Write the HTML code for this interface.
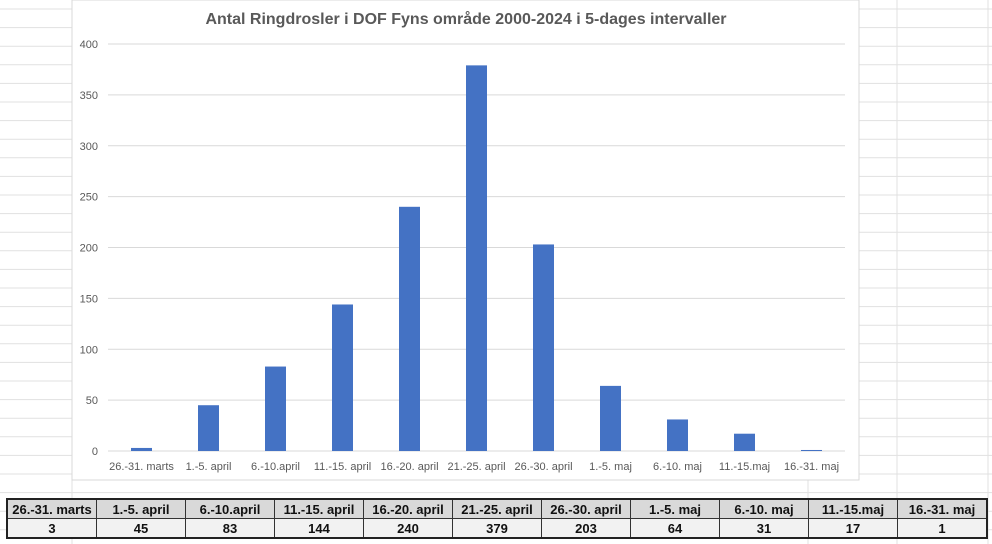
<!DOCTYPE html>
<html><head><meta charset="utf-8"><style>
body{margin:0;width:992px;height:544px;background:#fff;overflow:hidden;font-family:"Liberation Sans",sans-serif;position:relative}
#grid{position:absolute;left:0;top:0}
#chart{position:absolute;left:0;top:0}
table{position:absolute;left:6px;top:498px;border-collapse:collapse;table-layout:fixed}
td{border:1px solid #333;width:88px;height:18px;padding:0;text-align:center;font-weight:bold;font-size:13px;color:#111}
tr.h td{background:#d9d9d9}
tr.v td{background:#f2f2f2}
table{border:2px solid #222}
</style></head><body>
<svg id="grid" width="992" height="544"></svg>
<svg id="chart" width="992" height="544"></svg>
<table>
<tr class="h" id="hrow"></tr>
<tr class="v" id="vrow"></tr>
</table>
<script>
const categories=["26.-31. marts","1.-5. april","6.-10.april","11.-15. april","16.-20. april","21.-25. april","26.-30. april","1.-5. maj","6.-10. maj","11.-15.maj","16.-31. maj"];
const values=[3,45,83,144,240,379,203,64,31,17,1];
const yTicks=[0,50,100,150,200,250,300,350,400];
const NS="http://www.w3.org/2000/svg";
function mk(p,t,a){const e=document.createElementNS(NS,t);for(const k in a)e.setAttribute(k,a[k]);p.appendChild(e);return e;}
// spreadsheet grid
const g=document.getElementById('grid');
for(let y=9;y<544;y+=18.6){const l=mk(g,'line',{x1:0,x2:992,y1:y,y2:y,stroke:'#e1e1e1','stroke-width':1});

}
[72,808,897,988].forEach(x=>{const l=mk(g,'line',{x1:x,x2:x,y1:0,y2:544,stroke:'#e1e1e1','stroke-width':1});

});
// chart
const c=document.getElementById('chart');
const bg=mk(c,'rect',{x:72,y:0,width:787,height:480,fill:'#fff',stroke:'#d9d9d9'});


const x0=108,band=67,y0=451,ppu=(451-44)/400;
const yS=v=>y0-v*ppu, xS=i=>x0+band*i+band/2;
const t=mk(c,'text',{x:466,y:24,'text-anchor':'middle','font-size':16,'font-weight':'bold',fill:'#595959'});
t.textContent="Antal Ringdrosler i DOF Fyns område 2000-2024 i 5-dages intervaller";


yTicks.forEach(v=>{const l=mk(c,'line',{x1:x0,x2:x0+band*categories.length,y1:yS(v),y2:yS(v),stroke:'#d9d9d9'});


const tx=mk(c,'text',{x:98,y:yS(v)+4,'text-anchor':'end','font-size':11,fill:'#595959'});tx.textContent=v;

});
categories.forEach((cat,i)=>{const v=values[i];
const r=mk(c,'rect',{x:xS(i)-10.5,y:yS(v),width:21,height:v*ppu,fill:'#4472c4'});


const tx=mk(c,'text',{x:xS(i),y:470,'text-anchor':'middle','font-size':11,fill:'#595959'});tx.textContent=cat;


const h=document.createElement('td');h.textContent=cat;


document.getElementById('hrow').appendChild(h);
const d=document.createElement('td');d.textContent=v;


document.getElementById('vrow').appendChild(d);});
</script>
</body></html>
